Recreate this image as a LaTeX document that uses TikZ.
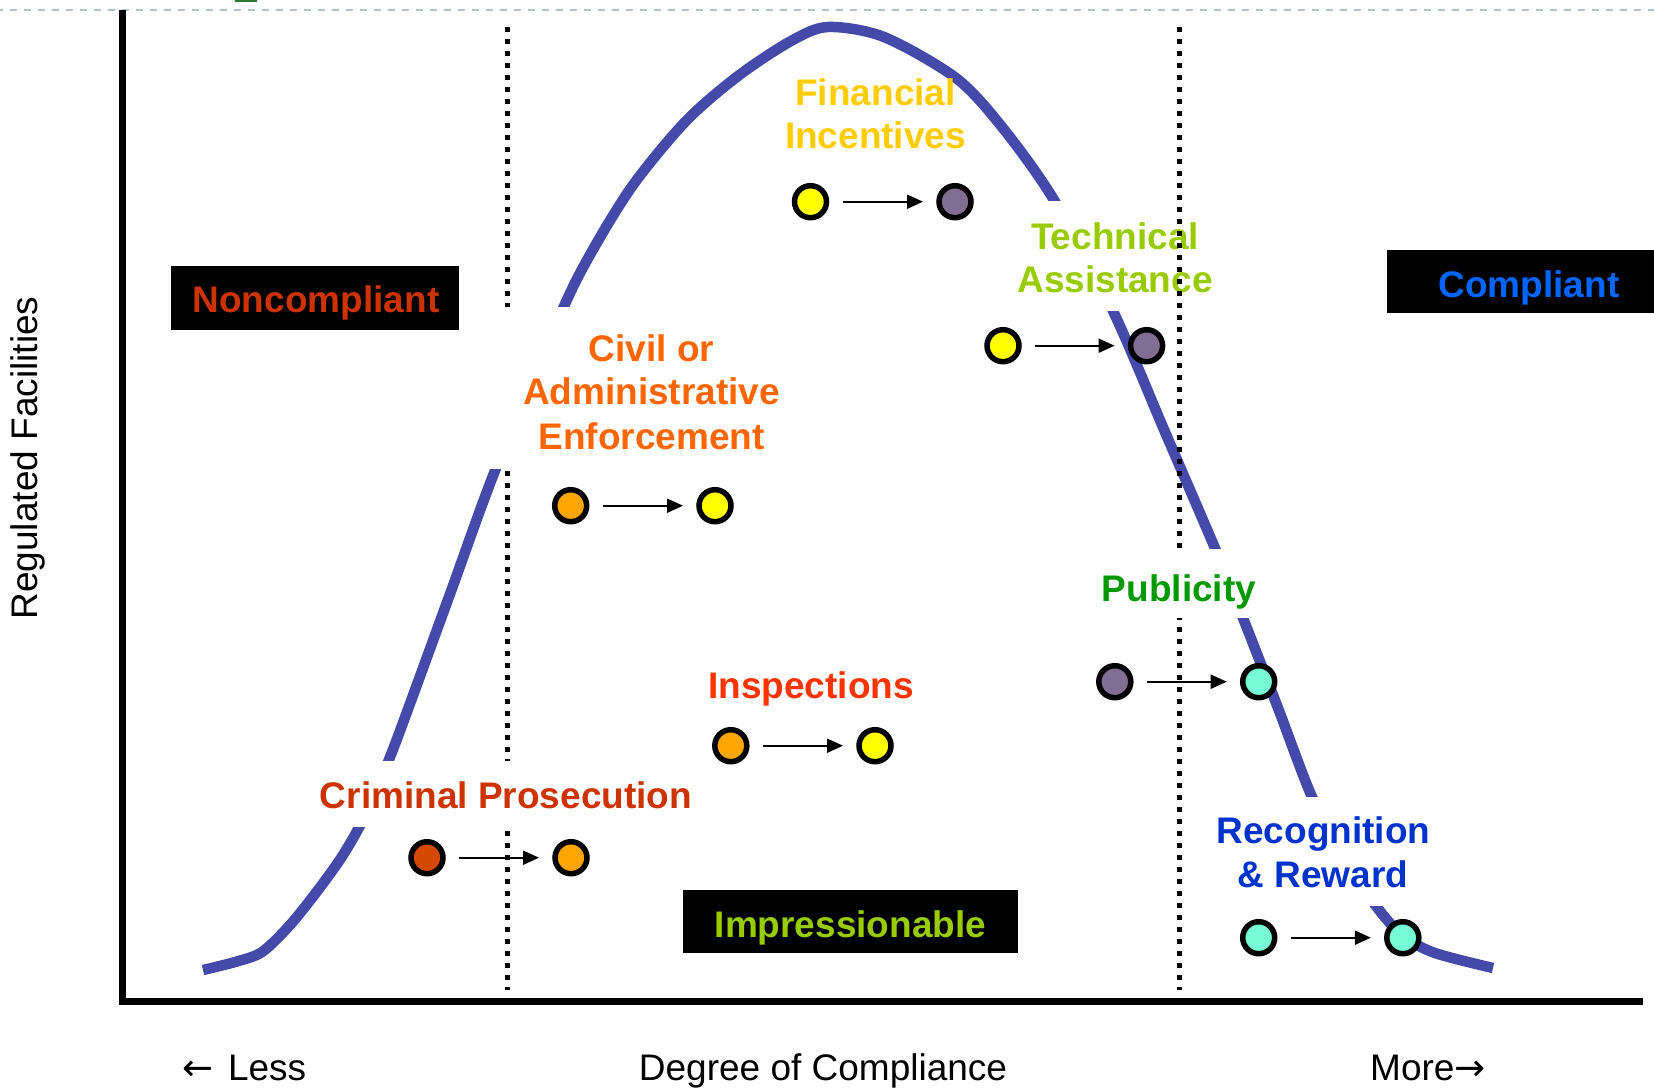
\documentclass[tikz,border=0pt]{standalone}
\usepackage{fontspec}
\setmainfont{Liberation Sans}
\newfontfamily\arrowfont{DejaVu Sans}
\usetikzlibrary{arrows.meta}
\definecolor{curveblue}{HTML}{4449AA}
\definecolor{dashblue}{HTML}{ABC3D5}
\definecolor{topgreen}{HTML}{2F7A33}
\definecolor{cyellow}{HTML}{FFFF00}
\definecolor{cpurple}{HTML}{806E93}
\definecolor{corange}{HTML}{FFA500}
\definecolor{cred}{HTML}{D44800}
\definecolor{cteal}{HTML}{76FBD4}
\definecolor{nonred}{HTML}{CC3300}
\definecolor{compblue}{HTML}{0066FF}
\definecolor{impgreen}{HTML}{99CC00}
\definecolor{finyellow}{HTML}{FFCC00}
\definecolor{techgreen}{HTML}{99CC00}
\definecolor{civorange}{HTML}{FF6600}
\definecolor{insred}{HTML}{FF3300}
\definecolor{crimred}{HTML}{CC3300}
\definecolor{pubgreen}{HTML}{009900}
\definecolor{recblue}{HTML}{0033CC}
\tikzset{
  lbl/.style={font=\fontsize{37}{44}\selectfont\bfseries, anchor=base, inner sep=0pt},
  axislbl/.style={font=\fontsize{37}{44}\selectfont, inner sep=0pt},
  ball/.style={circle, draw=black, line width=5.5pt, minimum size=32pt, inner sep=0pt, outer sep=0pt},
  conn/.style={-{Triangle[length=16pt,width=14pt]}, line width=2pt, shorten <=16pt, shorten >=16pt},
  sepline/.style={line width=5pt, dash pattern=on 5pt off 7pt},
  blackbox/.style={fill=black, inner sep=0pt, outer sep=0pt},
  bell/.style={draw=curveblue, line width=10.5pt},
  axisline/.style={line width=7pt},
}
\begin{document}
\begin{tikzpicture}[x=1pt,y=-1pt]
\useasboundingbox (0,0) rectangle (1654,1087);
% top dashed rule and green fragment
\draw[dashblue, line width=2.7pt, dash pattern=on 7pt off 7pt] (-4,10) -- (1654,10);
\fill[topgreen] (235,-1) rectangle (257,2);
% bell curve
\draw[bell] plot[smooth, tension=0.5] coordinates {
 (203,970) (235,962) (262,952) (290,925) (318,890) (343,855) (366,814)
 (388,762) (404,720) (450,594) (496,468) (561,313) (591,253) (633,185)
 (686,121) (738,76) (791,41) (828,27) (884,37) (956,78) (1002,127)
 (1054,200) (1113,311) (1165,432) (1217,553) (1243,618) (1278,708)
 (1312,797) (1345,858) (1376,906) (1403,936) (1435,953) (1493,968)};
% cover behind Technical Assistance
\fill[white] (1005,201) rectangle (1225,311);
\node[lbl, text=techgreen] (ta1) at (1115,249) {Technical};
\node[lbl, text=techgreen] (ta2) at (1115,292) {Assistance};
% dotted separators
\draw[sepline] (507,27) -- (507,990);
\draw[sepline] (1179,27) -- (1179,990);
% covers behind other labels
\fill[white] (480,307) rectangle (822,469);
\fill[white] (310,761) rectangle (700,827);
\fill[white] (1090,549) rectangle (1265,618);
\fill[white] (1205,797) rectangle (1440,906);
% axes
\draw[axisline] (122.5,10) -- (122.5,1005);
\draw[axisline] (119,1001.5) -- (1643,1001.5);
% labels
\node[lbl, text=finyellow] (fin1) at (875.5,105) {Financial};
\node[lbl, text=finyellow] (fin2) at (875.5,148) {Incentives};
\node[lbl, text=civorange] (cv1) at (651.5,361) {Civil or};
\node[lbl, text=civorange] (cv2) at (651.5,404) {Administrative};
\node[lbl, text=civorange] (cv3) at (651.5,449) {Enforcement};
\node[lbl, text=insred] (ins) at (811,698) {Inspections};
\node[lbl, text=crimred] (crim) at (506,808) {Criminal Prosecution};
\node[lbl, text=pubgreen] (pub) at (1179,601) {Publicity};
\node[lbl, text=recblue] (rec1) at (1323.5,843) {Recognition};
\node[lbl, text=recblue] (rec2) at (1323,887) {\& Reward};
% black category boxes
\node[blackbox, minimum width=288pt, minimum height=64pt] (ncbox) at (315,298) {};
\node[lbl, text=nonred] (nc) at (316,312.7) {Noncompliant};
\node[blackbox, minimum width=273pt, minimum height=63pt] (cbox) at (1523.5,281.5) {};
\node[lbl, text=compblue] (comp) at (1529,297.5) {Compliant};
\node[blackbox, minimum width=335pt, minimum height=63pt] (ibox) at (850.5,921.5) {};
\node[lbl, text=impgreen] (imp) at (850.5,937) {Impressionable};
% axis labels
\node[axislbl, anchor=base, rotate=90] (ylab) at (37.5,458) {Regulated Facilities};
\node[axislbl, anchor=base] (xlab) at (823,1080) {Degree of Compliance};
\node[axislbl, anchor=base west] (less) at (182,1080) {{\arrowfont ←}\hspace{0.4em}Less};
\node[axislbl, anchor=base west] (more) at (1370,1080) {More{\arrowfont →}};
% circles
\node[ball, fill=cyellow] (fy) at (810.5,201.7) {};
\node[ball, fill=cpurple] (fp) at (955,201.7) {};
\node[ball, fill=cyellow] (ty) at (1003,345.7) {};
\node[ball, fill=cpurple] (tp) at (1146.6,345.7) {};
\node[ball, fill=corange] (co) at (570.7,505.7) {};
\node[ball, fill=cyellow] (cy) at (715,505.7) {};
\node[ball, fill=corange] (io) at (730.8,745.7) {};
\node[ball, fill=cyellow] (iy) at (875,745.7) {};
\node[ball, fill=cred] (kr) at (427,857.7) {};
\node[ball, fill=corange] (ko) at (571,857.7) {};
\node[ball, fill=cpurple] (pp) at (1114.8,681.7) {};
\node[ball, fill=cteal] (pt) at (1258.7,681.7) {};
\node[ball, fill=cteal] (r1) at (1258.7,937.7) {};
\node[ball, fill=cteal] (r2) at (1402.8,937.7) {};
% arrows
\draw[conn] (fy) -- (fp);
\draw[conn] (ty) -- (tp);
\draw[conn] (co) -- (cy);
\draw[conn] (io) -- (iy);
\draw[conn] (kr) -- (ko);
\draw[conn] (pp) -- (pt);
\draw[conn] (r1) -- (r2);
\end{tikzpicture}
\end{document}
